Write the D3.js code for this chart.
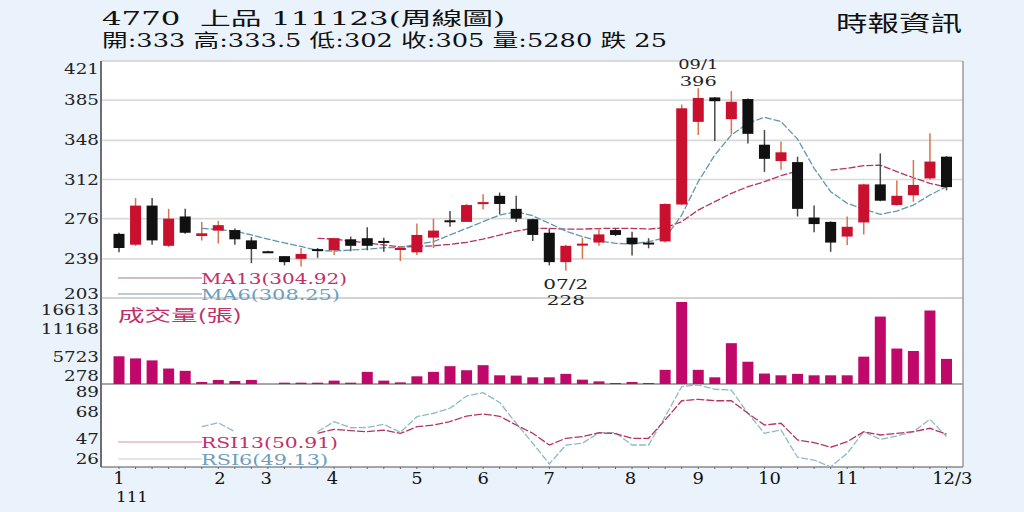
<!DOCTYPE html>
<html><head><meta charset="utf-8">
<script src="https://cdn.jsdelivr.net/npm/d3@7"></script>
<style>html,body{margin:0;padding:0;background:#eaf3fb;}svg{display:block}</style>
</head><body><svg id="c" width="1024" height="512"></svg>
<script>
// ---------- data ----------
const weeks = ["w01","w02","w03","w04","w05","w06","w07","w08","w09","w10","w11","w12","w13","w14","w15","w16","w17","w18","w19","w20","w21","w22","w23","w24","w25","w26","w27","w28","w29","w30","w31","w32","w33","w34","w35","w36","w37","w38","w39","w40","w41","w42","w43","w44","w45","w46","w47","w48","w49","w50","w51"];
const openP  = [262,252,288,251,278,260,265,265.5,256,246,241.5,239,248,247,257,258,255.5,248.5,245,258.5,274.5,273,291,297,285,275.5,263,236,252,254,265.5,258.5,254,255,289,365,387.5,367.5,386,344,329,328,277,273,259.5,272.5,307.5,288.5,297.5,313,333];
const highP  = [263,295,295,285,285,273,274,267,259,246.5,241.5,249,249,258.5,259.5,268,258.5,250.5,271.5,276,283,289.5,298.5,300,297,276,267,252,258.5,267,267,264,258,290,381,396,388,393.5,386.5,357.5,347,333,288,273.5,278,308,336,311,330,354.5,333.5];
const lowP   = [245,251,252,250,262,256,253,252,235,244.5,233,232,240,242.5,246,247,245.5,237,242.5,249,268.5,273,284.5,280,273,255.5,233,228,239,251,260,242,248.7,254,288.5,353,347.5,353.5,345,319,321,278,263.5,245.5,251.7,261.5,292,288,291.5,312,302];
const closeP = [249,288,256,276,263,262.5,270,257,248,245,236,243.5,247.5,258,251,251,254.5,249,261,265,273.5,288.5,291.2,289.5,276,261,236,251,253,261.5,261,252.5,253.5,289.5,377.5,387,384,383.5,354,331,337,285,271,254,268.5,307.5,292.5,297,307,328.5,305];
const volume = [5800,5380,4980,3360,2900,680,1085,880,1085,278,540,540,540,950,540,2700,950,600,1810,2700,3830,3020,4030,2010,1950,1610,1610,2300,1145,800,480,680,480,3100,16613,3100,1610,8410,4715,2360,2010,2300,2010,2010,2010,5725,13710,7340,6850,14920,5280];
const ma6  = [null,null,null,null,null,267.1,265.9,264.6,261,257.2,253.6,250.4,246.7,246.2,247.1,248,249.2,249.5,252.6,254.8,261,267.1,273.2,279.3,282.4,278.7,271.7,264.6,259.4,255.4,253.3,252.6,254.8,258.4,279.3,310,334.5,352.9,363.7,369.2,365.2,349.2,322.3,300.8,290.1,284.8,279.9,283,288.5,297.7,305.5];
const ma13 = [null,null,null,null,null,null,null,null,null,null,null,null,257.9,257.2,255.4,253.6,251.8,250,250.4,251,252.4,254.2,257.2,260.9,264.6,267.1,267.1,266.4,266.4,266.9,267.1,267.1,266.4,267.7,273.2,283.9,291.6,299.3,305.4,310,315.5,319.8,null,320.7,322.3,324.7,325.3,319.2,313.6,308.5,304.92];
const rsi6  = [null,null,null,null,null,56.6,59.6,52.8,null,null,null,null,52.8,60.4,55.8,56,58.4,52.3,64.2,66.8,70.6,79.9,82.4,75,59.2,44,28.3,42.7,44,52,52,42.7,42.7,64.2,87,88.3,85,84.4,66.8,51.6,54.1,33.4,31.3,26,36.4,52.8,47,49.5,52.8,62.2,49.13];
const rsi13 = [null,null,null,null,null,null,null,null,null,null,null,null,51.6,54.6,53.6,52.8,54,51.5,56.6,57.8,60.4,64.7,66.2,64.5,57.9,51.6,42.7,47.8,49,52,51.3,47.8,47.8,61.7,76.3,77.4,76.3,76.3,66.8,57.9,59.2,46.5,44.5,41,45.2,52.8,50.3,51.6,52.8,55.4,50.91];
const priceTicks = [421,385,348,312,276,239,203];
const volTicks = [16613,11168,5723,278];
const rsiTicks = [89,68,47,26];
const monthLabels = ["1","2","3","4","5","6","7","8","9","10","11","12/3"];
const monthPos = [0,6.1,8.9,12.9,18,22,26,30.9,35,39.3,44,50.35];
const yearLabel = "111";
const titleLine1 = "4770  上品 111123(周線圖)";
const titleLine2 = "開:333 高:333.5 低:302 收:305 量:5280 跌 25";
const sourceLabel = "時報資訊";
const maLegend = ["MA13(304.92)","MA6(308.25)"];
const rsiLegend = ["RSI13(50.91)","RSI6(49.13)"];
const volLabel = "成交量(張)";
const peakLabels = [{i:35, date:"09/1", val:"396", at:"high"},{i:27, date:"07/2", val:"228", at:"low"}];

// ---------- layout ----------
const SERIF = "'DejaVu Serif','Liberation Serif','Noto Sans CJK TC',serif";
const L = 101, R = 963, T = 61;
const pB = 298, vB = 384, rB = 467;
const svg = d3.select("#c");

const x = d3.scaleLinear().domain([0, weeks.length - 1]).range([119, 946.5]);
const yP = d3.scaleLinear().domain([203, 421]).range([pB, T]);
const yV = d3.scaleLinear().domain([278, 16613]).range([vB, 302]);
const yR = d3.scaleLinear().domain([26, 89]).range([rB, vB]);

function stretch(sel, f) {
  sel.each(function(){ const w = this.getComputedTextLength(); d3.select(this).attr("textLength", w*f).attr("lengthAdjust","spacingAndGlyphs"); });
}
function fit(sel, w) { sel.attr("textLength", w).attr("lengthAdjust","spacingAndGlyphs"); }

svg.append("rect").attr("width",1024).attr("height",512).attr("fill","#eaf3fb");
svg.append("rect").attr("x",L).attr("y",T).attr("width",R-L).attr("height",rB-T).attr("fill","#fff");

// grid
svg.append("g").selectAll("line").data(priceTicks.slice(1,-1)).join("line")
  .attr("x1",L).attr("x2",R).attr("y1",d=>yP(d)).attr("y2",d=>yP(d))
  .attr("stroke","#dadada").attr("stroke-width",1.6);
// frame
svg.append("line").attr("x1",L).attr("x2",R).attr("y1",T).attr("y2",T).attr("stroke","#d0d0d0").attr("stroke-width",1.5);
svg.append("line").attr("x1",L).attr("x2",R).attr("y1",pB).attr("y2",pB).attr("stroke","#c4c4c4").attr("stroke-width",1.5);
svg.append("line").attr("x1",L).attr("x2",R).attr("y1",vB).attr("y2",vB).attr("stroke","#8a8a8a").attr("stroke-width",1.5);
svg.append("line").attr("x1",L).attr("x2",R).attr("y1",rB).attr("y2",rB).attr("stroke","#8a8a8a").attr("stroke-width",1.5);
svg.append("line").attr("x1",R).attr("x2",R).attr("y1",T).attr("y2",rB).attr("stroke","#9a9a9a").attr("stroke-width",1.5);
svg.append("line").attr("x1",L).attr("x2",L).attr("y1",T).attr("y2",rB).attr("stroke","#6e6e6e").attr("stroke-width",2);

// legends (MA)
const legMA = svg.append("g");
[[278,"#c4a6b4","#c0306a",146],[294,"#a9b9c4","#6b9ec0",139]].forEach((c,k)=>{
  legMA.append("line").attr("x1",118).attr("x2",202).attr("y1",c[0]).attr("y2",c[0]).attr("stroke",c[1]).attr("stroke-width",1.4);
  legMA.append("text").attr("x",201).attr("y",c[0]+6).attr("font-family",SERIF).attr("font-size",14).attr("fill",c[2]).text(maLegend[k]).call(fit,c[3]);
});

// MA lines
const lineP = d3.line().defined(d=>d!=null).x((d,i)=>x(i)).y(d=>yP(d));
svg.append("path").datum(ma13).attr("d",lineP).attr("fill","none").attr("stroke","#b7345f").attr("stroke-width",1.3).attr("stroke-dasharray","7,2");
svg.append("path").datum(ma6).attr("d",lineP).attr("fill","none").attr("stroke","#5f97b2").attr("stroke-width",1.3).attr("stroke-dasharray","7,2");

// candles
const cg = svg.append("g").selectAll("g").data(weeks).join("g");
cg.append("line").attr("x1",(d,i)=>x(i)).attr("x2",(d,i)=>x(i))
  .attr("y1",(d,i)=>yP(highP[i])).attr("y2",(d,i)=>yP(lowP[i]))
  .attr("stroke",(d,i)=>closeP[i]>=openP[i]?"#d8744c":"#4a4a4a").attr("stroke-width",1.5);
cg.append("rect").attr("x",(d,i)=>x(i)-5.5).attr("width",11)
  .attr("y",(d,i)=>yP(Math.max(openP[i],closeP[i])))
  .attr("height",(d,i)=>Math.max(2,Math.abs(yP(openP[i])-yP(closeP[i]))))
  .attr("fill",(d,i)=>closeP[i]>=openP[i]?"#c9112f":"#111");

// high/low annotations
peakLabels.forEach(p=>{
  const cx = x(p.i);
  const add = (yy, t, w) => svg.append("text").attr("x",cx).attr("y",yy).attr("text-anchor","middle")
    .attr("font-family",SERIF).attr("font-size",13.5).attr("fill","#222").text(t).call(fit,w);
  if (p.at === "high") {
    const yy = yP(highP[p.i]);
    add(yy-19, p.date, 40); add(yy-2, p.val, 37);
  } else {
    const yy = yP(lowP[p.i]);
    add(yy+18, p.date, 45); add(yy+34, p.val, 38);
  }
});

// volume
svg.append("g").selectAll("rect").data(volume).join("rect")
  .attr("x",(d,i)=>x(i)-5.5).attr("width",11)
  .attr("y",d=>yV(d)).attr("height",d=>vB-yV(d)).attr("fill","#c0086a");
svg.append("text").attr("x",118).attr("y",321).attr("font-family","'Noto Sans CJK TC',sans-serif").attr("font-size",16).attr("fill","#c0306a").text(volLabel).call(fit,124);

// RSI legends + lines
[[442,"#e5b9c8","#c0306a",137],[459,"#d3e0e8","#6b9ec0",127]].forEach((c,k)=>{
  svg.append("line").attr("x1",118).attr("x2",202).attr("y1",c[0]).attr("y2",c[0]).attr("stroke",c[1]).attr("stroke-width",1.4);
  svg.append("text").attr("x",201).attr("y",c[0]+6).attr("font-family",SERIF).attr("font-size",14).attr("fill",c[2]).text(rsiLegend[k]).call(fit,c[3]);
});
const lineR = d3.line().defined(d=>d!=null).x((d,i)=>x(i)).y(d=>yR(d));
svg.append("path").datum(rsi6).attr("d",lineR).attr("fill","none").attr("stroke","#8fb8cc").attr("stroke-width",1.3).attr("stroke-dasharray","7,2");
svg.append("path").datum(rsi13).attr("d",lineR).attr("fill","none").attr("stroke","#b7345f").attr("stroke-width",1.3).attr("stroke-dasharray","8,2");

// y-axis labels
function yLabels(ticks, sc, top, bot, topPad, botPad) {
  svg.append("g").selectAll("text").data(ticks).join("text")
    .attr("x",99).attr("text-anchor","end")
    .attr("y",d=>Math.min(bot-botPad, Math.max(top+topPad, sc(d)))+5)
    .attr("font-family",SERIF).attr("font-size",15).attr("fill","#222").text(d=>d).call(stretch,1.22);
}
yLabels(priceTicks, yP, T, pB, 8, 4);
yLabels(volTicks, yV, 302, vB, 8, 8);
yLabels(rsiTicks, yR, vB, rB, 8, 8);

// x-axis
svg.append("g").selectAll("line").data(weeks).join("line")
  .attr("x1",(d,i)=>x(i)).attr("x2",(d,i)=>x(i)).attr("y1",rB).attr("y2",rB+2)
  .attr("stroke","#666").attr("stroke-width",1);
svg.append("g").selectAll("text").data(monthLabels).join("text")
  .attr("x",(d,i)=>x(monthPos[i])).attr("y",484).attr("text-anchor","middle")
  .attr("font-family",SERIF).attr("font-size",16).attr("fill","#111").text(d=>d).call(stretch,1.12);
svg.append("text").attr("x",116).attr("y",502).attr("font-family",SERIF).attr("font-size",14).attr("fill","#111").text(yearLabel).call(fit,32);

// titles
svg.append("text").attr("x",102).attr("y",25).style("white-space","pre").attr("font-family",SERIF).attr("font-size",18).attr("fill","#111")
  .text(titleLine1).call(fit,403);
svg.append("text").attr("x",102).attr("y",47).attr("font-family",SERIF).attr("font-size",18).attr("fill","#111")
  .text(titleLine2).call(fit,565);
svg.append("text").attr("x",836).attr("y",31).attr("font-family","'Noto Sans CJK TC',sans-serif").attr("font-size",22).attr("fill","#111")
  .text(sourceLabel).call(fit,126);
</script></body></html>
